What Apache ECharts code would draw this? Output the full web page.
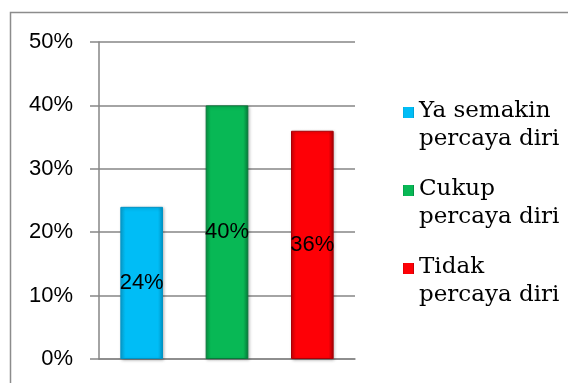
<!DOCTYPE html>
<html>
<head>
<meta charset="utf-8">
<script src="https://cdn.jsdelivr.net/npm/echarts@6/dist/echarts.min.js"></script>
<style>html,body{margin:0;padding:0;background:#fff}#c{width:568px;height:383px}</style>
</head>
<body>
<div id="c"></div>
<script>
var categories = ['Ya semakin\npercaya diri', 'Cukup\npercaya diri', 'Tidak\npercaya diri'];
var values = [0.24, 0.40, 0.36];
var yTicks = [0, 0.1, 0.2, 0.3, 0.4, 0.5];
var colors = [
  ['#0093c4', '#00bdf6', '#0aa7d8'],
  ['#067a3a', '#08b855', '#079a47'],
  ['#a80006', '#fe0006', '#d40006']
];

function grad(c) {
  return new echarts.graphic.LinearGradient(0, 0, 1, 0, [
    {offset: 0, color: c[2]},
    {offset: 0.12, color: c[1]},
    {offset: 0.88, color: c[1]},
    {offset: 1, color: c[0]}
  ]);
}

var series = categories.map(function (name, i) {
  return {
    name: name,
    type: 'bar',
    stack: 'all',
    barWidth: '50%',
    data: categories.map(function (_, j) { return j === i ? values[i] : '-'; }),
    itemStyle: {color: grad(colors[i]), borderColor: colors[i][0], borderWidth: 1,
      shadowColor: 'rgba(0,0,0,0.25)', shadowBlur: 3, shadowOffsetX: 1, shadowOffsetY: 1},
    label: {
      show: true, position: 'inside', color: '#000',
      fontFamily: 'Liberation Sans', fontSize: 22,
      formatter: function (p) { return Math.round(p.value * 100) + '%'; }
    }
  };
});

var chart = echarts.init(document.getElementById('c'), null, {renderer: 'canvas'});
chart.setOption({
  animation: false,
  backgroundColor: '#fff',
  graphic: [{
    type: 'rect', shape: {x: 10.5, y: 12.5, width: 700, height: 500},
    style: {fill: 'none', stroke: '#8c8c8c', lineWidth: 1.5}, silent: true
  }],
  grid: {left: 99, right: 213, top: 42, bottom: 24},
  xAxis: {
    type: 'category', data: categories,
    axisLine: {show: true, lineStyle: {color: '#868686', width: 1.5}},
    axisTick: {show: false}, axisLabel: {show: false}
  },
  yAxis: {
    type: 'value', min: yTicks[0], max: yTicks[yTicks.length - 1], interval: 0.1,
    axisLine: {show: true, lineStyle: {color: '#868686', width: 1.5}},
    axisTick: {show: true, length: 9, lineStyle: {color: '#868686', width: 1.5}},
    splitLine: {show: true, lineStyle: {color: '#868686', width: 1.5}},
    axisLabel: {
      margin: 26, color: '#000', fontFamily: 'Liberation Sans', fontSize: 22,
      formatter: function (v) { return Math.round(v * 100) + '%'; }
    }
  },
  legend: {
    orient: 'vertical', left: 398, top: 92, itemGap: 22,
    itemWidth: 11, itemHeight: 56,
    icon: 'path://M0,10 L11,10 L11,21 L0,21 Z M0,0 L0,0.001 Z M0,56 L0,56.001 Z',
    itemStyle: {borderWidth: 0, shadowBlur: 0},
    textStyle: {fontFamily: 'DejaVu Serif', fontSize: 23, lineHeight: 28, color: '#000'},
    data: categories
  },
  series: series
});
</script>
</body>
</html>
